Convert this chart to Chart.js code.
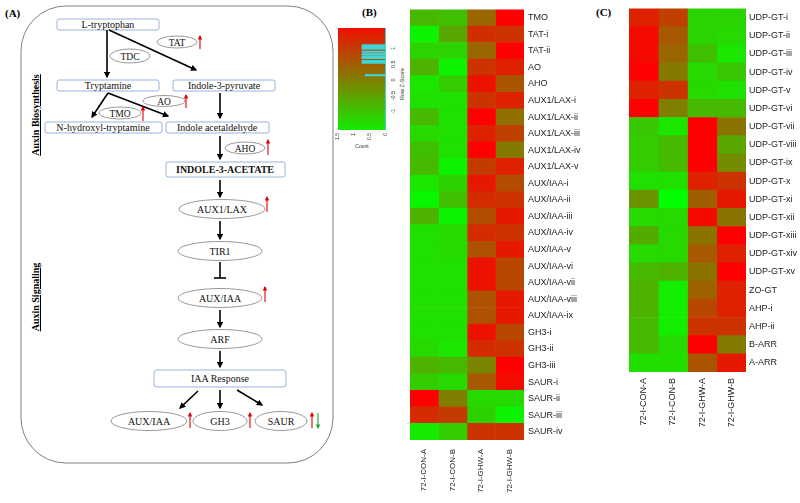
<!DOCTYPE html>
<html>
<head>
<meta charset="utf-8">
<script src="https://cdn.jsdelivr.net/npm/chart.js@4/dist/chart.umd.min.js"></script>
<style>
  html, body { margin: 0; padding: 0; background: #fff; }
  #wrap { position: relative; width: 800px; height: 503px; overflow: hidden; background: #fff; }
  canvas { position: absolute; }
  .plab { position: absolute; font-family: 'Liberation Serif', 'Times New Roman', serif; font-weight: bold; font-size: 11px; color: #000; }
  .keytitle { position: absolute; font-family: 'Liberation Sans', Arial, sans-serif; font-size: 5.5px; color: #333; transform-origin: 0 0; transform: rotate(-90deg); white-space: nowrap; }
  svg { position: absolute; left: 0; top: 0; }
</style>
</head>
<body>
<div id="wrap">
<svg width="340" height="503" font-family="'Liberation Serif','Times New Roman',serif" font-size="10">
  <defs>
    <marker id="ah" viewBox="0 0 10 10" refX="8" refY="5" markerWidth="4" markerHeight="4" orient="auto"><path d="M0,0 L10,5 L0,10 z" fill="#000"/></marker>
    <marker id="ahr" viewBox="0 0 10 10" refX="8" refY="5" markerWidth="4" markerHeight="4" orient="auto"><path d="M0,0 L10,5 L0,10 z" fill="#e00000"/></marker>
    <marker id="ahg" viewBox="0 0 10 10" refX="8" refY="5" markerWidth="4" markerHeight="4" orient="auto"><path d="M0,0 L10,5 L0,10 z" fill="#1aa830"/></marker>
  </defs>
  <text x="5" y="17" font-weight="bold" font-size="11">(A)</text>
  <rect x="21" y="6" width="312" height="457" rx="45" ry="45" fill="none" stroke="#808080" stroke-width="1"/>

  <text transform="translate(39,115) rotate(-90)" text-anchor="middle" font-weight="bold" font-size="10" text-decoration="underline">Auxin Biosynthesis</text>
  <text transform="translate(39,297) rotate(-90)" text-anchor="middle" font-weight="bold" font-size="10" text-decoration="underline">Auxin Signaling</text>

  <g fill="#fff" stroke="#8faad8" stroke-width="0.9">
    <rect x="57" y="19" width="102" height="11" rx="2"/>
    <rect x="57" y="80" width="102" height="11" rx="2"/>
    <rect x="173" y="80" width="102" height="11" rx="2"/>
    <rect x="45" y="122" width="117" height="11" rx="2"/>
    <rect x="166" y="122" width="103" height="11" rx="2"/>
    <rect x="166" y="162" width="119" height="15" rx="2"/>
    <rect x="154" y="370" width="132" height="17" rx="3"/>
  </g>
  <g text-anchor="middle" fill="#111">
    <text x="108" y="28">L-tryptophan</text>
    <text x="108" y="89">Tryptamine</text>
    <text x="224" y="89">Indole-3-pyruvate</text>
    <text x="103" y="131">N-hydroxyl-tryptamine</text>
    <text x="217" y="131">Indole acetaldehyde</text>
    <text x="225" y="173" font-weight="bold">INDOLE-3-ACETATE</text>
    <text x="220" y="382">IAA Response</text>
  </g>

  <g fill="#fff" stroke="#808080" stroke-width="0.8">
    <ellipse cx="177" cy="42" rx="20" ry="6"/>
    <ellipse cx="130" cy="56" rx="20" ry="7"/>
    <ellipse cx="164" cy="101" rx="21" ry="5.5"/>
    <ellipse cx="120" cy="113" rx="21" ry="6"/>
    <ellipse cx="245" cy="148" rx="20" ry="6"/>
    <ellipse cx="222" cy="209" rx="43" ry="9.5"/>
    <ellipse cx="220" cy="251" rx="42" ry="9.5"/>
    <ellipse cx="220" cy="298" rx="42" ry="9.5"/>
    <ellipse cx="220" cy="339" rx="42" ry="9.5"/>
    <ellipse cx="149" cy="421" rx="38" ry="9.5"/>
    <ellipse cx="220" cy="421" rx="27" ry="9.5"/>
    <ellipse cx="281" cy="421" rx="26" ry="9.5"/>
  </g>
  <g text-anchor="middle" fill="#111" font-size="9.5">
    <text x="177" y="45.5">TAT</text>
    <text x="130" y="59.5">TDC</text>
    <text x="164" y="104.5">AO</text>
    <text x="120" y="116.5">TMO</text>
    <text x="245" y="151.5">AHO</text>
    <text x="222" y="212.5" font-size="10">AUX1/LAX</text>
    <text x="220" y="254.5" font-size="10">TIR1</text>
    <text x="220" y="301.5" font-size="10">AUX/IAA</text>
    <text x="220" y="342.5" font-size="10">ARF</text>
    <text x="149" y="424.5" font-size="10">AUX/IAA</text>
    <text x="220" y="424.5" font-size="10">GH3</text>
    <text x="281" y="424.5" font-size="10">SAUR</text>
  </g>

  <g stroke="#000" stroke-width="1.6" fill="none" marker-end="url(#ah)">
    <line x1="107" y1="30" x2="107" y2="77"/>
    <line x1="109" y1="30" x2="196" y2="70"/>
    <line x1="108" y1="93" x2="92" y2="117"/>
    <line x1="108" y1="93" x2="168" y2="116"/>
    <line x1="220" y1="93" x2="220" y2="118"/>
    <line x1="220" y1="136" x2="220" y2="159"/>
    <line x1="220" y1="180" x2="220" y2="197"/>
    <line x1="220" y1="221" x2="220" y2="239"/>
    <line x1="220" y1="310" x2="220" y2="327"/>
    <line x1="220" y1="351" x2="220" y2="367"/>
    <line x1="198" y1="391" x2="180" y2="408"/>
    <line x1="220" y1="390" x2="220" y2="408"/>
    <line x1="237" y1="390" x2="262" y2="405"/>
  </g>
  <g stroke="#000" stroke-width="1.6">
    <line x1="220" y1="262" x2="220" y2="278"/>
    <line x1="214" y1="278" x2="226" y2="278"/>
  </g>

  <g stroke="#e00000" stroke-width="1.1" marker-end="url(#ahr)">
    <line x1="200" y1="49" x2="200" y2="36"/>
    <line x1="186" y1="108" x2="186" y2="95"/>
    <line x1="143" y1="121" x2="143" y2="107"/>
    <line x1="268" y1="155" x2="268" y2="140"/>
    <line x1="267" y1="212" x2="267" y2="197"/>
    <line x1="265" y1="302" x2="265" y2="287"/>
    <line x1="190" y1="428" x2="190" y2="413"/>
    <line x1="250" y1="428" x2="250" y2="413"/>
    <line x1="312" y1="428" x2="312" y2="413"/>
  </g>
  <line x1="318" y1="413" x2="318" y2="428" stroke="#1aa830" stroke-width="1.1" marker-end="url(#ahg)"/>
</svg>

<div class="plab" style="left:362px;top:6px;">(B)</div>
<div class="plab" style="left:596px;top:6px;">(C)</div>
<div class="keytitle" style="left:399px;top:100px;">Row Z-Score</div>

<canvas id="key" width="85" height="135" style="left:330px;top:15px;"></canvas>
<canvas id="heatB" width="195" height="503" style="left:405px;top:0px;"></canvas>
<canvas id="heatC" width="180" height="503" style="left:620px;top:0px;"></canvas>
</div>

<script>
// ---------------- data ----------------
const samples = ['72-I-CON-A', '72-I-CON-B', '72-I-GHW-A', '72-I-GHW-B'];

const rowsB = ['TMO', 'TAT-i', 'TAT-ii', 'AO', 'AHO',
  'AUX1/LAX-i', 'AUX1/LAX-ii', 'AUX1/LAX-iii', 'AUX1/LAX-iv', 'AUX1/LAX-v',
  'AUX/IAA-i', 'AUX/IAA-ii', 'AUX/IAA-iii', 'AUX/IAA-iv', 'AUX/IAA-v',
  'AUX/IAA-vi', 'AUX/IAA-vii', 'AUX/IAA-viii', 'AUX/IAA-ix',
  'GH3-i', 'GH3-ii', 'GH3-iii', 'SAUR-i', 'SAUR-ii', 'SAUR-iii', 'SAUR-iv'];

// row Z-scores, one array per sample column (panel B)
const bConA = [-0.66, -1.35, -0.99, -0.60, -1.20, -1.14, -0.69, -1.05, -0.75, -0.69, -1.20, -1.41, -0.60, -1.14, -1.14, -1.14, -1.14, -1.14, -1.14, -1.14, -1.05, -0.60, -0.90, 1.50, 0.99, -1.26];
const bConB = [-0.75, -0.45, -0.99, -1.35, -0.90, -1.14, -1.14, -1.14, -1.14, -1.35, -0.96, -0.75, -1.35, -1.05, -1.05, -1.14, -1.14, -1.14, -1.14, -1.14, -1.20, -0.66, -1.05, 0.00, 0.81, -0.90];
const bGhwA = [0.30, 0.96, 0.30, 0.90, 1.29, 0.90, 1.50, 1.11, 1.50, 0.81, 1.20, 0.99, 0.60, 0.99, 0.54, 1.29, 1.29, 0.54, 0.54, 1.29, 0.99, -0.06, 0.45, -1.05, -0.96, 0.90];
const bGhwB = [1.50, 0.90, 1.50, 1.11, 0.48, 1.11, 0.21, 0.75, 0.06, 1.11, 0.60, 0.90, 1.20, 0.90, 1.20, 0.66, 0.66, 1.20, 1.20, 0.66, 0.90, 1.50, 1.35, -1.05, -1.35, 0.90];

const rowsC = ['UDP-GT-i', 'UDP-GT-ii', 'UDP-GT-iii', 'UDP-GT-iv', 'UDP-GT-v', 'UDP-GT-vi',
  'UDP-GT-vii', 'UDP-GT-viii', 'UDP-GT-ix', 'UDP-GT-x', 'UDP-GT-xi', 'UDP-GT-xii',
  'UDP-GT-xiii', 'UDP-GT-xiv', 'UDP-GT-xv', 'ZO-GT', 'AHP-i', 'AHP-ii', 'B-ARR', 'A-ARR'];

// row Z-scores, one array per sample column (panel C)
const cConA = [1.11, 1.38, 1.38, 1.50, 1.11, 1.50, -0.84, -0.90, -0.90, -1.14, -0.24, -1.05, -0.51, -1.05, -0.69, -0.60, -0.60, -0.69, -0.69, -1.11];
const cConB = [0.75, 0.45, 0.30, 0.06, 0.90, 0.00, -1.20, -0.69, -0.69, -1.14, -1.50, -1.05, -1.05, -1.05, -0.60, -1.29, -1.29, -1.29, -1.05, -1.11];
const cGhwA = [-0.99, -0.99, -0.75, -1.05, -1.05, -0.69, 1.50, 1.50, 1.50, 1.11, 0.39, 1.38, 0.15, 0.45, 0.15, 0.36, 0.66, 0.90, 1.50, 0.51];
const cGhwB = [-0.99, -1.05, -1.20, -0.84, -1.14, -0.69, 0.15, -0.45, -0.15, 0.90, 1.20, 0.15, 1.50, 1.11, 1.50, 1.11, 1.11, 0.90, 0.06, 1.20];

// colour key (Row Z-Score) with histogram lines
const keyTicks = [-1, -0.5, 0, 0.5, 1];
const keyCountTicks = [0, 0.5, 1, 1.5];
const keyLineZ = [1.10, 1.05, 1.00, 0.90, 0.82, 0.75, 0.70, 0.60, 0.55, 0.15];
const keyLineCount = [0.75, 0.75, 0.75, 0.75, 0.75, 0.75, 0.75, 0.75, 0.75, 0.65];

// ---------------- helpers ----------------
const Z_MIN = -1.5, Z_MAX = 1.5;
function zColor(z) {
  let t = (z - Z_MIN) / (Z_MAX - Z_MIN);
  t = Math.max(0, Math.min(1, t));
  const r = Math.round(255 * t), g = Math.round(255 * (1 - t));
  return 'rgb(' + r + ',' + g + ',0)';
}

Chart.defaults.font.family = "'Liberation Sans', Arial, sans-serif";
Chart.defaults.color = '#222';

function heatChart(id, rows, columns, box) {
  const datasets = columns.map((zs, i) => ({
    label: samples[i],
    data: zs.map(() => 1),
    backgroundColor: zs.map(zColor),
    borderWidth: 0,
    barPercentage: 1,
    categoryPercentage: 1,
    xAxisID: 'x',
    yAxisID: 'y'
  }));
  return new Chart(document.getElementById(id), {
    type: 'bar',
    data: { labels: rows, datasets },
    options: {
      indexAxis: 'y',
      responsive: false,
      animation: false,
      layout: { padding: { left: box.padL, top: box.padT, right: 0, bottom: 0 } },
      plugins: { legend: { display: false }, tooltip: { enabled: false } },
      scales: {
        x: { type: 'linear', stacked: true, min: 0, max: samples.length, display: false },
        y: {
          type: 'category', position: 'right', stacked: true, offset: true,
          grid: { display: false, drawTicks: false }, border: { display: false },
          ticks: { padding: box.rowPad, autoSkip: false, font: { size: 9 }, color: '#222' },
          afterFit: s => { s.width = box.axisW; }
        },
        xc: {
          type: 'category', labels: samples, position: 'bottom', offset: true,
          grid: { display: false, drawTicks: false }, border: { display: false },
          ticks: { minRotation: 90, maxRotation: 90, padding: box.colPad, autoSkip: false, font: { size: box.colFont }, color: '#222' },
          afterFit: s => { s.height = box.axisH; }
        }
      }
    }
  });
}

heatChart('heatB', rowsB, [bConA, bConB, bGhwA, bGhwB], { padL: 5, padT: 3, axisW: 76, axisH: 63, rowPad: 4, colPad: 9, colFont: 8 });
heatChart('heatC', rowsC, [cConA, cConB, cGhwA, cGhwB], { padL: 9, padT: 4, axisW: 54, axisH: 131, rowPad: 3, colPad: 6, colFont: 9 });

// colour key
const KEY_MIN = -1.27, KEY_MAX = 1.33;
const keyBg = {
  id: 'keyBg',
  beforeDatasetsDraw(chart) {
    const { ctx, chartArea: a } = chart;
    const g = ctx.createLinearGradient(0, a.top, 0, a.bottom);
    const steps = 10;
    for (let i = 0; i <= steps; i++) {
      const v = KEY_MAX - (KEY_MAX - KEY_MIN) * i / steps;
      g.addColorStop(i / steps, zColor(v));
    }
    ctx.save();
    ctx.fillStyle = g;
    ctx.fillRect(a.left, a.top, a.right - a.left, a.bottom - a.top);
    ctx.strokeStyle = '#3fd6d6';
    ctx.lineWidth = 1;
    ctx.beginPath();
    ctx.moveTo(a.right - 0.5, a.top);
    ctx.lineTo(a.right - 0.5, a.bottom);
    ctx.stroke();
    ctx.restore();
  }
};
new Chart(document.getElementById('key'), {
  type: 'bar',
  data: {
    datasets: [{
      data: keyLineZ.map((z, i) => ({ y: z, x: keyLineCount[i] })),
      backgroundColor: '#3fd6d6',
      borderWidth: 0,
      barThickness: 1.5
    }]
  },
  options: {
    indexAxis: 'y',
    responsive: false,
    animation: false,
    layout: { padding: { left: 8, top: 13, right: 0, bottom: 0 } },
    plugins: { legend: { display: false }, tooltip: { enabled: false } },
    scales: {
      y: {
        type: 'linear', position: 'right', min: KEY_MIN, max: KEY_MAX,
        afterBuildTicks: s => { s.ticks = keyTicks.map(v => ({ value: v })); },
        grid: { display: false, drawTicks: true, tickLength: 2, color: '#555' },
        border: { display: false },
        ticks: { minRotation: 90, maxRotation: 90, crossAlign: 'center', padding: 1, font: { size: 5.5 }, color: '#333', callback: v => String(v) },
        afterFit: s => { s.width = 29; }
      },
      x: {
        type: 'linear', position: 'bottom', min: 0, max: 1.5, reverse: true,
        afterBuildTicks: s => { s.ticks = keyCountTicks.map(v => ({ value: v })); },
        grid: { display: false, drawTicks: true, tickLength: 2 },
        border: { display: false },
        ticks: { minRotation: 90, maxRotation: 90, padding: 1, font: { size: 5 }, color: '#333', callback: v => String(v) },
        title: { display: true, text: 'Count', font: { size: 5 }, color: '#333', padding: 0 },
        afterFit: s => { s.height = 20; }
      }
    }
  },
  plugins: [keyBg]
});
</script>
</body>
</html>
